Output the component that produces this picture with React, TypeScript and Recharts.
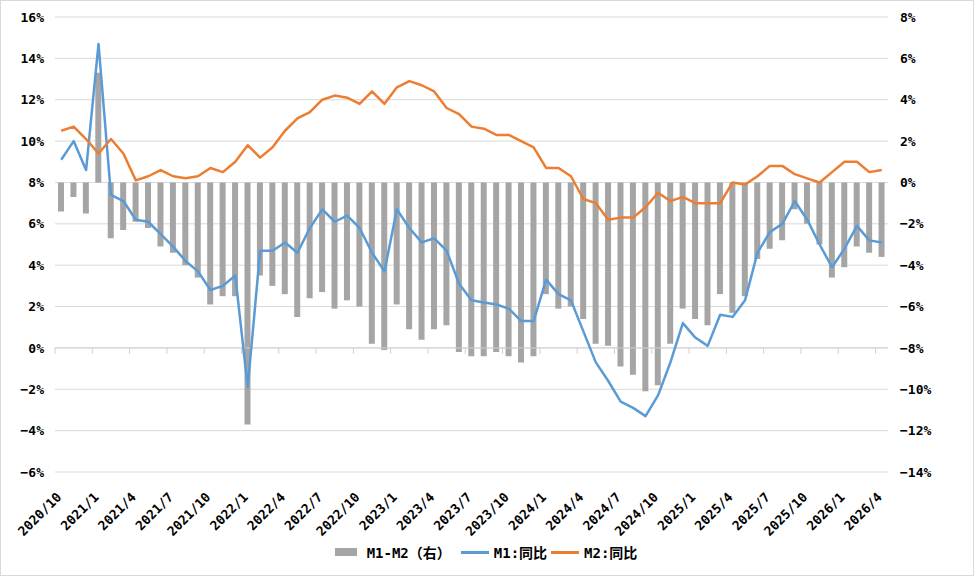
import React from 'react';
import {
  ComposedChart,
  Bar,
  Line,
  XAxis,
  YAxis,
  CartesianGrid,
  ReferenceLine,
  Legend,
} from 'recharts';

const months: string[] = [
  '2020/10', '2020/11', '2020/12',
  '2021/1', '2021/2', '2021/3', '2021/4', '2021/5', '2021/6', '2021/7', '2021/8', '2021/9', '2021/10', '2021/11', '2021/12',
  '2022/1', '2022/2', '2022/3', '2022/4', '2022/5', '2022/6', '2022/7', '2022/8', '2022/9', '2022/10', '2022/11', '2022/12',
  '2023/1', '2023/2', '2023/3', '2023/4', '2023/5', '2023/6', '2023/7', '2023/8', '2023/9', '2023/10', '2023/11', '2023/12',
  '2024/1', '2024/2', '2024/3', '2024/4', '2024/5', '2024/6', '2024/7', '2024/8', '2024/9', '2024/10', '2024/11', '2024/12',
  '2025/1', '2025/2', '2025/3', '2025/4', '2025/5', '2025/6', '2025/7', '2025/8', '2025/9', '2025/10', '2025/11', '2025/12',
  '2026/1', '2026/2', '2026/3', '2026/4',
];

// M1 同比 (left axis, %)
const m1Yoy: number[] = [
  9.1, 10.0, 8.6, 14.7, 7.4, 7.1, 6.2, 6.1, 5.5, 4.9,
  4.2, 3.7, 2.8, 3.0, 3.5, -1.9, 4.7, 4.7, 5.1, 4.6,
  5.8, 6.7, 6.1, 6.4, 5.8, 4.6, 3.7, 6.7, 5.8, 5.1,
  5.3, 4.7, 3.1, 2.3, 2.2, 2.1, 1.9, 1.3, 1.3, 3.3,
  2.6, 2.3, 0.8, -0.7, -1.6, -2.6, -2.9, -3.3, -2.3, -0.7,
  1.2, 0.5, 0.1, 1.6, 1.5, 2.3, 4.6, 5.6, 6.0, 7.1,
  6.2, 5.0, 3.9, 4.8, 5.9, 5.2, 5.1,
];

// M2 同比 (left axis, %)
const m2Yoy: number[] = [
  10.5, 10.7, 10.1, 9.4, 10.1, 9.4, 8.1, 8.3, 8.6, 8.3,
  8.2, 8.3, 8.7, 8.5, 9.0, 9.8, 9.2, 9.7, 10.5, 11.1,
  11.4, 12.0, 12.2, 12.1, 11.8, 12.4, 11.8, 12.6, 12.9, 12.7,
  12.4, 11.6, 11.3, 10.7, 10.6, 10.3, 10.3, 10.0, 9.7, 8.7,
  8.7, 8.3, 7.2, 7.0, 6.2, 6.3, 6.3, 6.8, 7.5, 7.1,
  7.3, 7.0, 7.0, 7.0, 8.0, 7.9, 8.3, 8.8, 8.8, 8.4,
  8.2, 8.0, 8.5, 9.0, 9.0, 8.5, 8.6,
];

// M1-M2 (right axis, %)
const m1m2Gap: number[] = [
  -1.4, -0.7, -1.5, 5.3, -2.7, -2.3, -1.9, -2.2, -3.1, -3.4,
  -4.0, -4.6, -5.9, -5.5, -5.5, -11.7, -4.5, -5.0, -5.4, -6.5,
  -5.6, -5.3, -6.1, -5.7, -6.0, -7.8, -8.1, -5.9, -7.1, -7.6,
  -7.1, -6.9, -8.2, -8.4, -8.4, -8.2, -8.4, -8.7, -8.4, -5.4,
  -6.1, -6.0, -6.6, -7.8, -7.9, -8.9, -9.3, -10.1, -9.8, -7.8,
  -6.1, -6.6, -6.9, -5.4, -6.3, -5.5, -3.7, -3.2, -2.8, -1.3,
  -2.0, -3.0, -4.6, -4.1, -3.1, -3.4, -3.6,
];

const leftTicks: number[] = [-6, -4, -2, 0, 2, 4, 6, 8, 10, 12, 14, 16];
const rightTicks: number[] = [-14, -12, -10, -8, -6, -4, -2, 0, 2, 4, 6, 8];

const seriesNames = {
  gap: 'M1-M2（右）',
  m1: 'M1:同比',
  m2: 'M2:同比',
};

const data = months.map((m, i) => ({
  month: m,
  gap: m1m2Gap[i],
  m1: m1Yoy[i],
  m2: m2Yoy[i],
}));

const W = 976;
const H = 576;
const MARGIN = { top: 17, right: 0, bottom: 12, left: 0 };
const LEFT_W = 55;
const RIGHT_W = 88;
const XAXIS_H = 68;
const LEGEND_H = 24;
const PLOT_TOP = MARGIN.top;
const PLOT_BOTTOM = H - MARGIN.bottom - LEGEND_H - XAXIS_H;
const LEFT_MIN = leftTicks[0];
const LEFT_MAX = leftTicks[leftTicks.length - 1];
const ZERO_Y =
  PLOT_BOTTOM - ((0 - LEFT_MIN) / (LEFT_MAX - LEFT_MIN)) * (PLOT_BOTTOM - PLOT_TOP);

const TICK_FONT = '"DejaVu Sans Mono", "Liberation Mono", monospace';
const LEGEND_FONT = '"DejaVu Sans Mono", "Noto Sans CJK SC", sans-serif';

const fmtPct = (v: number) => `${v}%`.replace('-', '−');

const XTick = (props: any) => {
  const { x, y, payload } = props;
  const half = payload && typeof payload.offset === 'number' ? payload.offset : 6.2;
  const tx = x + 1;
  const ty = y + 26;
  return (
    <g>
      <line x1={x - half} x2={x - half} y1={ZERO_Y} y2={ZERO_Y + 6} stroke="#d0d0d0" strokeWidth={1} />
      <text
        x={tx}
        y={ty}
        transform={`rotate(-45 ${tx} ${ty})`}
        textAnchor="end"
        fontFamily={TICK_FONT}
        fontWeight={700}
        fontSize={13}
        fill="#000"
      >
        {payload.value}
      </text>
    </g>
  );
};

const LegendContent = (props: any) => {
  const payload: any[] = props.payload || [];
  return (
    <div
      style={{
        display: 'flex',
        justifyContent: 'center',
        alignItems: 'center',
        height: LEGEND_H,
        fontFamily: LEGEND_FONT,
        fontWeight: 700,
        fontSize: 14,
        color: '#000',
        whiteSpace: 'nowrap',
      }}
    >
      {payload.map((item, idx) => {
        const isRect = item.type === 'rect';
        return (
          <div key={idx} style={{ display: 'flex', alignItems: 'center', marginRight: idx === 0 ? 10 : 4 }}>
            {isRect ? (
              <span style={{ display: 'inline-block', width: 22, height: 8, background: item.color, marginRight: 10 }} />
            ) : (
              <span style={{ display: 'inline-block', width: 28, height: 3, background: item.color, marginRight: 5 }} />
            )}
            <span>{item.value}</span>
          </div>
        );
      })}
    </div>
  );
};

export default function App() {
  return (
    <div style={{ position: 'absolute', left: 0, top: 0, width: W, height: H, background: '#fff' }}>
      <ComposedChart
        width={W}
        height={H}
        data={data}
        margin={MARGIN}
        barSize={6}
      >
        <CartesianGrid yAxisId="left" vertical={false} stroke="#d9d9d9" strokeWidth={1} />
        <XAxis
          dataKey="month"
          interval={2}
          height={XAXIS_H}
          axisLine={false}
          tickLine={false}
          tickSize={0}
          tickMargin={0}
          tick={<XTick />}
        />
        <YAxis
          yAxisId="left"
          orientation="left"
          width={LEFT_W}
          domain={[LEFT_MIN, LEFT_MAX]}
          ticks={leftTicks}
          interval={0}
          allowDataOverflow
          axisLine={false}
          tickLine={false}
          tickSize={0}
          tickMargin={11}
          tickFormatter={fmtPct}
          tick={{ fontFamily: TICK_FONT, fontWeight: 700, fontSize: 13, fill: '#000' }}
        />
        <YAxis
          yAxisId="right"
          orientation="right"
          width={RIGHT_W}
          domain={[rightTicks[0], rightTicks[rightTicks.length - 1]]}
          ticks={rightTicks}
          interval={0}
          allowDataOverflow
          axisLine={false}
          tickLine={false}
          tickSize={0}
          tickMargin={12}
          tickFormatter={fmtPct}
          tick={{ fontFamily: TICK_FONT, fontWeight: 700, fontSize: 13, fill: '#000', textAnchor: 'start' }}
        />
        <ReferenceLine yAxisId="left" y={0} stroke="#d0d0d0" strokeWidth={1} />
        <Bar
          yAxisId="right"
          dataKey="gap"
          name={seriesNames.gap}
          fill="#a5a5a5"
          legendType="rect"
          isAnimationActive={false}
        />
        <Line
          yAxisId="left"
          type="linear"
          dataKey="m1"
          name={seriesNames.m1}
          stroke="#5b9bd5"
          strokeWidth={2.5}
          dot={false}
          activeDot={false}
          legendType="line"
          strokeLinejoin="round"
          isAnimationActive={false}
        />
        <Line
          yAxisId="left"
          type="linear"
          dataKey="m2"
          name={seriesNames.m2}
          stroke="#ed7d31"
          strokeWidth={2.5}
          dot={false}
          activeDot={false}
          legendType="line"
          strokeLinejoin="round"
          isAnimationActive={false}
        />
        <Legend verticalAlign="bottom" height={LEGEND_H} content={<LegendContent />} />
      </ComposedChart>
      <div
        style={{
          position: 'absolute',
          left: 0,
          top: 0,
          width: 974,
          height: H,
          boxSizing: 'border-box',
          border: '1px solid #d9d9d9',
          pointerEvents: 'none',
        }}
      />
    </div>
  );
}
